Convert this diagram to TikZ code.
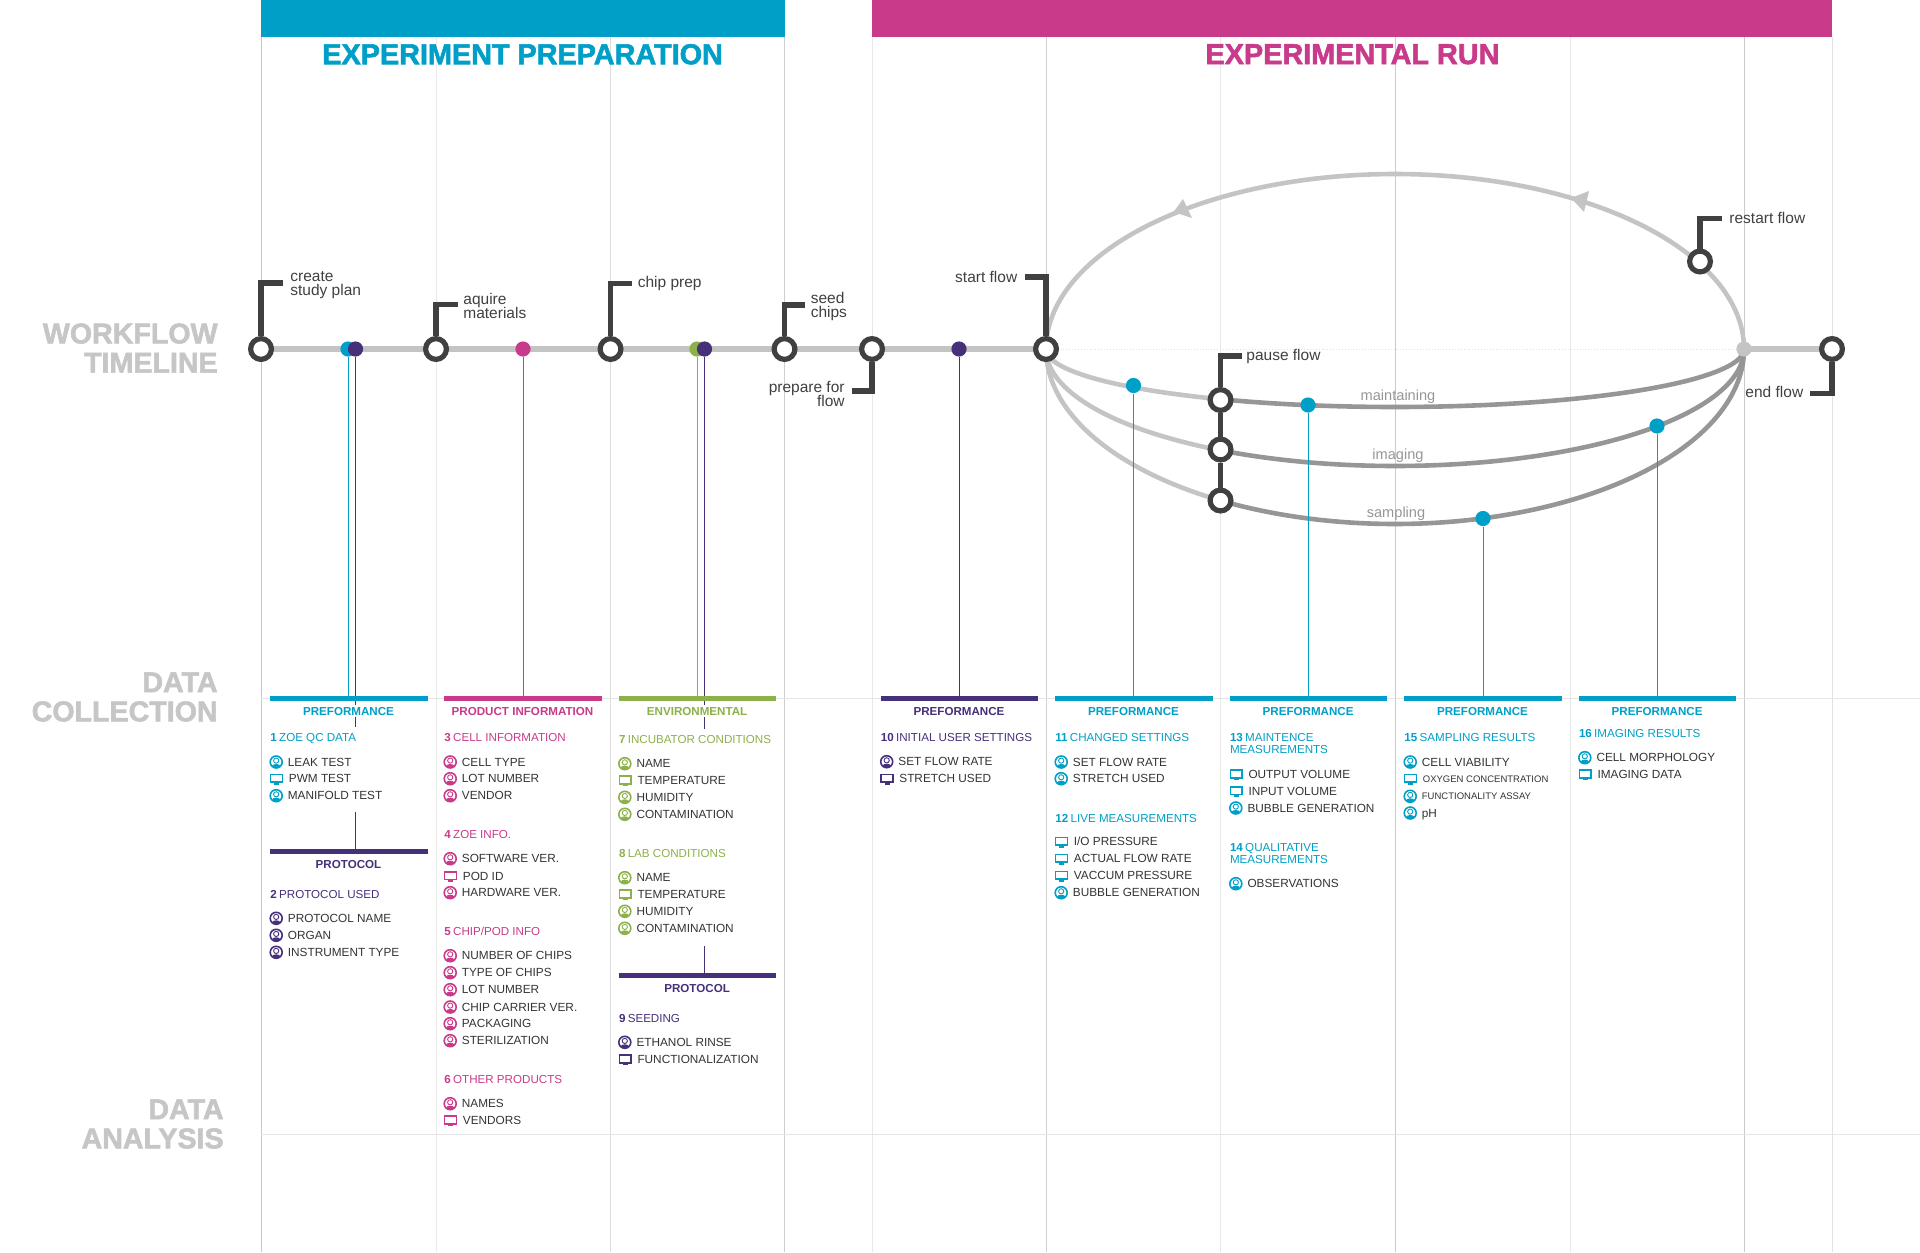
\documentclass[tikz,border=0pt]{standalone}
\usepackage{fontspec}
\setmainfont{Liberation Sans}
\newfontfamily\heavyfont{Liberation Sans}[UprightFont=* Bold,FakeBold=2]
\definecolor{cblue}{HTML}{009FC7}
\definecolor{cpink}{HTML}{C93A8A}
\definecolor{cgreen}{HTML}{8CB04A}
\definecolor{cpurple}{HTML}{46307A}
\definecolor{cdark}{HTML}{3F4042}
\definecolor{cpath}{HTML}{C4C4C4}
\definecolor{cflow}{HTML}{969696}
\definecolor{ctext}{HTML}{333338}
\definecolor{chead}{HTML}{C6C6C6}
\newcounter{nid}
\def\cx{0}
\newcommand{\icoP}[2]{% colour, y
  \fill[#1] (\cx+6.2,#2+4) ellipse[x radius=2pt,y radius=1pt];
  \draw[#1,line width=.8pt] (\cx+6.2,#2) circle[radius=3pt];
  \draw[#1,fill=white,line width=.45pt] (\cx+6.2,#2-1.4) circle[radius=1.3pt];
}
\newcommand{\icoM}[2]{% colour, y
  \draw[#1,line width=.75pt] (\cx+0.7,#2-4.2) rectangle (\cx+12.3,#2+3.4);
  \fill[#1] (\cx,#2+2.8) rectangle (\cx+13,#2+4.2);
  \fill[#1] (\cx+4,#2+4) rectangle (\cx+9,#2+5.8);
}
\newcommand{\itP}[3][itemtext]{\stepcounter{nid}\icoP{\colr}{#2}\node[#1,name=n\arabic{nid}] at (\cx+17.5,#2) {#3};}
\newcommand{\itM}[3][itemtext]{\stepcounter{nid}\icoM{\colr}{#2}\node[#1,name=n\arabic{nid}] at (\cx+18.5,#2) {#3};}
\newcommand{\sect}[3]{\stepcounter{nid}\node[secttext,text=\colr,name=n\arabic{nid}] at (\cx,#1) {\textbf{#2}\hspace{.2em}#3};}
\newcommand{\sectB}[5]{\stepcounter{nid}\node[secttext,text=\colr,name=n\arabic{nid}] at (\cx,#1) {\textbf{#3}\hspace{.2em}#4};\stepcounter{nid}\node[secttext,text=\colr,name=n\arabic{nid}] at (\cx,#2) {#5};}
\newcommand{\headbar}[4]{% colour, xleft, y, text
  \stepcounter{nid}
  \coordinate (b\arabic{nid}l) at (#2,#3);
  \coordinate (b\arabic{nid}r) at (#2+157.5,#3);
  \draw[bar,#1] (b\arabic{nid}l) -- (b\arabic{nid}r);
  \node[headtext,text=#1,name=n\arabic{nid}] at (#2+78.5,#3+13) {#4};
}
\begin{document}
\begin{tikzpicture}[x=0.5pt,y=-0.5pt,
  gridline/.style={line width=.45pt},
  timeline/.style={cpath,line width=2.6pt},
  flow/.style={cflow,line width=2.3pt},
  flowlight/.style={cpath,line width=2.3pt},
  ring/.style={circle,draw=cdark,fill=white,line width=2.6pt,inner sep=0pt,minimum size=10.4pt},
  dot/.style={circle,inner sep=0pt,minimum size=7.6pt},
  flag/.style={cdark,line width=2.7pt},
  leader/.style={line width=.4pt},
  bar/.style={line width=2.5pt},
  lbl/.style={font=\fontsize{7.75}{7.35}\selectfont,text=cdark,inner sep=0pt,align=left},
  curvelbl/.style={font=\fontsize{7.3}{8}\selectfont,text=cflow,inner sep=0pt},
  itemtext/.style={font=\fontsize{5.9}{7}\selectfont,text=ctext,inner sep=0pt,anchor=west,text height=4.25pt,text depth=0pt},
  smalltext/.style={font=\fontsize{4.75}{6}\selectfont,text=ctext,inner sep=0pt,anchor=west,text height=3.45pt,text depth=0pt},
  secttext/.style={font=\fontsize{5.8}{7}\selectfont,inner sep=0pt,anchor=west,text height=4.1pt,text depth=0pt},
  headtext/.style={font=\fontsize{5.8}{7}\selectfont\bfseries,inner sep=1pt,fill=white,text height=4.2pt,text depth=0pt},
  sidehead/.style={font=\fontsize{14.3}{14.6}\selectfont\heavyfont,text=chead,inner sep=0pt,align=right,anchor=east},
  banner/.style={inner sep=0pt,anchor=north west,minimum height=18.5pt},
  title/.style={font=\fontsize{14.4}{16}\selectfont\heavyfont,inner sep=0pt}
]
\useasboundingbox (0,0) rectangle (1920,1252);

% grid
\foreach \gx/\gc in {261/C8C8C8,436/EAEAEA,610.5/DCDCDC,784.5/CECECE,872/E8E8E8,1046/D2D2D2,1220/E8E8E8,1395/CACACA,1570/E8E8E8,1744/CACACA,1832/E2E2E2}{
  \definecolor{gc}{HTML}{\gc}
  \draw[gridline,gc] (\gx,37) -- (\gx,1252);
}
\draw[gridline,color=black!10] (261,698) -- (1920,698);
\draw[gridline,color=black!10] (261,1134) -- (1920,1134);
\draw[gridline,color=black!12,densely dotted] (1046,349) -- (1744,349);

% banners and titles
\node[banner,fill=cblue,minimum width=262pt] (bannerA) at (261,0) {};
\node[banner,fill=cpink,minimum width=480pt] (bannerB) at (872,0) {};
\node[title,text=cblue] (titleA) at (522.6,54.3) {EXPERIMENT PREPARATION};
\node[title,text=cpink] (titleB) at (1352.5,54.3) {EXPERIMENTAL RUN};

% side headings
\node[sidehead] (sideA) at (218,348) {WORKFLOW\\TIMELINE};
\node[sidehead] (sideB) at (218,697) {DATA\\COLLECTION};
\node[sidehead] (sideC) at (224,1124) {DATA\\ANALYSIS};

% rings and dots positions
\coordinate (e1) at (1046,349);
\coordinate (e2) at (1744,349);

% path lines
\draw[timeline] (261,349) -- (e1);
\draw[timeline] (e2) -- (1832,349);
\draw[flowlight] plot[domain=180:0,samples=120] ({1395+349*cos(\x)},{349-175*sin(\x)});
\fill[cpath] (1173.5,212) -- (1183,199) -- (1192,218) -- cycle;
\fill[cpath] (1571,198) -- (1589,191) -- (1584,212) -- cycle;
\foreach \ry in {58,117,175}{
  \draw[flowlight] plot[domain=180:120,samples=40] ({1395+349*cos(\x)},{349+\ry*sin(\x)});
  \draw[flow] plot[domain=120:0,samples=100] ({1395+349*cos(\x)},{349+\ry*sin(\x)});
}
\node[dot,fill=cpath] (junction) at (e2) {};

% dots
\node[dot,fill=cblue] (d1) at (348,349) {};
\node[dot,fill=cpurple] (d2) at (355.5,349) {};
\node[dot,fill=cpink] (d3) at (523,349) {};
\node[dot,fill=cgreen] (d4) at (697,349) {};
\node[dot,fill=cpurple] (d5) at (704.5,349) {};
\node[dot,fill=cpurple] (d6) at (959,349) {};
\node[dot,fill=cblue] (d7) at (1133.5,385.5) {};
\node[dot,fill=cblue] (d8) at (1308,405) {};
\node[dot,fill=cblue] (d9) at (1483,518.5) {};
\node[dot,fill=cblue] (d10) at (1657,426) {};

% leaders
\coordinate (l1) at (348,698);
\coordinate (l2) at (355.5,727);
\coordinate (l3) at (523,698);
\coordinate (l4) at (697,698);
\coordinate (l5) at (704.5,729);
\coordinate (l6) at (959,698);
\coordinate (l7) at (1133.5,698);
\coordinate (l8) at (1308,698);
\coordinate (l9) at (1483,698);
\coordinate (l10) at (1657,698);
\draw[leader,cblue] (d1) -- (l1);
\draw[leader,cpurple] (d2) -- (l2);
\draw[leader,cpink] (d3) -- (l3);
\draw[leader,cgreen] (d4) -- (l4);
\draw[leader,cpurple] (d5) -- (l5);
\draw[leader,cpurple] (d6) -- (l6);
\draw[leader,cblue] (d7) -- (l7);
\draw[leader,cblue] (d8) -- (l8);
\draw[leader,cblue] (d9) -- (l9);
\draw[leader,cblue] (d10) -- (l10);

% flags
\node[ring] (r1) at (261,349) {};
\node[ring] (r2) at (436,349) {};
\node[ring] (r3) at (610.5,349) {};
\node[ring] (r4) at (784.5,349) {};
\node[ring] (r5) at (872,349) {};
\node[ring] (r6) at (e1) {};
\node[ring] (r7) at (1220.5,400) {};
\node[ring] (r8) at (1220.5,449.5) {};
\node[ring] (r9) at (1220.5,500.5) {};
\node[ring] (r10) at (1832,349) {};
\node[ring] (r11) at (1700,261.5) {};
\coordinate (f1) at (283,283);
\coordinate (f2) at (457.5,304.5);
\coordinate (f3) at (632,283.5);
\coordinate (f4) at (804.5,305);
\coordinate (f5) at (851.5,391);
\coordinate (f6) at (1025,277);
\coordinate (f7) at (1242,356);
\coordinate (f8) at (1810,393.5);
\coordinate (f9) at (1722,218.5);
\draw[flag] (r1) |- (f1);
\draw[flag] (r2) |- (f2);
\draw[flag] (r3) |- (f3);
\draw[flag] (r4) |- (f4);
\draw[flag] (r5) |- (f5);
\draw[flag] (r6) |- (f6);
\draw[flag] (r7) |- (f7);
\draw[flag] (r10) |- (f8);
\draw[flag] (r11) |- (f9);
\draw[flag] (r7) -- (r8);
\draw[flag] (r8) -- (r9);

% flag labels
\node[lbl,anchor=west] (t1) at (290,285) {create\\study plan};
\node[lbl,anchor=west] (t2) at (463,306) {aquire\\materials};
\node[lbl,anchor=west] (t3) at (637.4,283) {chip prep};
\node[lbl,anchor=west] (t4) at (810.4,306.5) {seed\\chips};
\node[lbl,anchor=east,align=right] (t5) at (845,394) {prepare for\\flow};
\node[lbl,anchor=east] (t6) at (1017.6,276.5) {start flow};
\node[lbl,anchor=west] (t7) at (1246,356.5) {pause flow};
\node[lbl,anchor=east] (t8) at (1803.6,391.5) {end flow};
\node[lbl,anchor=west] (t9) at (1729,218) {restart flow};
\node[curvelbl] (c1) at (1398,397) {maintaining};
\node[curvelbl] (c2) at (1398,455.5) {imaging};
\node[curvelbl] (c3) at (1396,514) {sampling};

% column 1
\def\cx{270}\def\colr{cblue}
\headbar{cblue}{270}{698}{PREFORMANCE}
\sect{737.7}{1}{ZOE QC DATA}
\itP{762}{LEAK TEST}
\itM{778.7}{PWM TEST}
\itP{795.7}{MANIFOLD TEST}
\coordinate (s1) at (355.5,812);
\coordinate (s1b) at (355.5,851);
\draw[leader,cpurple] (s1) -- (s1b);
\def\colr{cpurple}
\headbar{cpurple}{270}{851}{PROTOCOL}
\sect{894}{2}{PROTOCOL USED}
\itP{918.3}{PROTOCOL NAME}
\itP{935.3}{ORGAN}
\itP{952.3}{INSTRUMENT TYPE}

% column 2
\def\cx{444}\def\colr{cpink}
\headbar{cpink}{444}{698}{PRODUCT INFORMATION}
\sect{737.7}{3}{CELL INFORMATION}
\itP{762}{CELL TYPE}
\itP{778.7}{LOT NUMBER}
\itP{795.7}{VENDOR}
\sect{834.7}{4}{ZOE INFO.}
\itP{858.7}{SOFTWARE VER.}
\itM{876}{POD ID}
\itP{892.7}{HARDWARE VER.}
\sect{931.3}{5}{CHIP/POD INFO}
\itP{955.7}{NUMBER OF CHIPS}
\itP{972.7}{TYPE OF CHIPS}
\itP{989.7}{LOT NUMBER}
\itP{1007}{CHIP CARRIER VER.}
\itP{1023.7}{PACKAGING}
\itP{1040.7}{STERILIZATION}
\sect{1079.7}{6}{OTHER PRODUCTS}
\itP{1103.7}{NAMES}
\itM{1120.3}{VENDORS}

% column 3
\def\cx{618.6}\def\colr{cgreen}
\headbar{cgreen}{618.6}{698}{ENVIRONMENTAL}
\sect{739.3}{7}{INCUBATOR CONDITIONS}
\itP{763.7}{NAME}
\itM{780.3}{TEMPERATURE}
\itP{797.3}{HUMIDITY}
\itP{814.3}{CONTAMINATION}
\sect{853.3}{8}{LAB CONDITIONS}
\itP{877.7}{NAME}
\itM{894.3}{TEMPERATURE}
\itP{911.3}{HUMIDITY}
\itP{928.3}{CONTAMINATION}
\coordinate (s2) at (704.5,946.3);
\coordinate (s2b) at (704.5,975.7);
\draw[leader,cpurple] (s2) -- (s2b);
\def\colr{cpurple}
\headbar{cpurple}{618.6}{975.7}{PROTOCOL}
\sect{1018}{9}{SEEDING}
\itP{1042.3}{ETHANOL RINSE}
\itM{1059.3}{FUNCTIONALIZATION}

% column 4
\def\cx{880.5}\def\colr{cpurple}
\headbar{cpurple}{880.5}{698}{PREFORMANCE}
\sect{737.7}{10}{INITIAL USER SETTINGS}
\itP{761.7}{SET FLOW RATE}
\itM{778.7}{STRETCH USED}

% column 5
\def\cx{1055}\def\colr{cblue}
\headbar{cblue}{1055}{698}{PREFORMANCE}
\sect{737.7}{11}{CHANGED SETTINGS}
\itP{762}{SET FLOW RATE}
\itP{778.7}{STRETCH USED}
\sect{818}{12}{LIVE MEASUREMENTS}
\itM{841.7}{I/O PRESSURE}
\itM{858.7}{ACTUAL FLOW RATE}
\itM{875.7}{VACCUM PRESSURE}
\itP{892.7}{BUBBLE GENERATION}

% column 6
\def\cx{1229.6}
\headbar{cblue}{1229.6}{698}{PREFORMANCE}
\sectB{737.7}{749.7}{13}{MAINTENCE}{MEASUREMENTS}
\itM{774.3}{OUTPUT VOLUME}
\itM{791}{INPUT VOLUME}
\itP{808}{BUBBLE GENERATION}
\sectB{847.7}{859.7}{14}{QUALITATIVE}{MEASUREMENTS}
\itP{883.7}{OBSERVATIONS}

% column 7
\def\cx{1404}
\headbar{cblue}{1404}{698}{PREFORMANCE}
\sect{737.7}{15}{SAMPLING RESULTS}
\itP{762}{CELL VIABILITY}
\itM[smalltext]{778.7}{OXYGEN CONCENTRATION}
\itP[smalltext]{796.3}{FUNCTIONALITY ASSAY}
\itP{813}{pH}

% column 8
\def\cx{1578.6}
\headbar{cblue}{1578.6}{698}{PREFORMANCE}
\sect{733.3}{16}{IMAGING RESULTS}
\itP{757.7}{CELL MORPHOLOGY}
\itM{774.3}{IMAGING DATA}
\end{tikzpicture}
\end{document}
